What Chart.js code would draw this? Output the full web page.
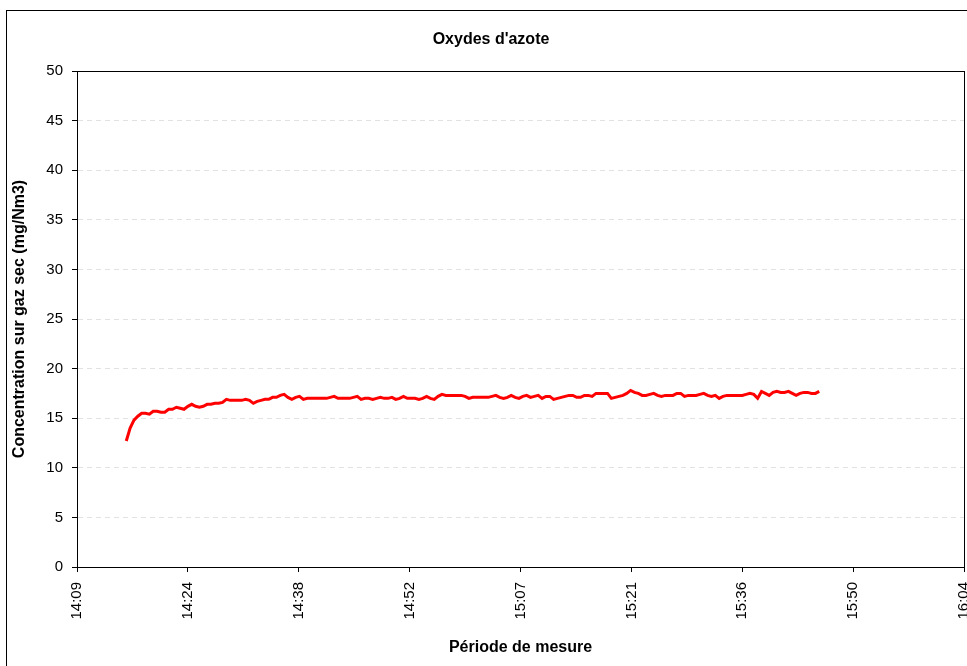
<!DOCTYPE html>
<html><head><meta charset="utf-8">
<script src="https://cdn.jsdelivr.net/npm/chart.js@4.4.0/dist/chart.umd.min.js"></script>
<style>html,body{margin:0;padding:0;background:#fff;overflow:hidden}</style>
</head><body>
<canvas id="c" width="967" height="666"></canvas>
<script>
const chartTitle = "Oxydes d'azote";
const yTitle = "Concentration sur gaz sec (mg/Nm3)";
const xTitle = "Période de mesure";
// x axis in minutes since midnight
const tickMinutes = [849.6, 864, 878.4, 892.8, 907.2, 921.6, 936, 950.4, 964.8];
const tickLabels = ["14:09","14:24","14:38","14:52","15:07","15:21","15:36","15:50","16:04"];
const yTicks = [0,5,10,15,20,25,30,35,40,45,50];
const startMinute = 856;
const stepMinutes = 0.5;
const noxValues = [
 12.7,14.0,14.8,15.2,15.5,15.5,15.4,15.7,15.7,15.6,
 15.6,15.9,15.9,16.1,16.0,15.9,16.2,16.4,16.2,16.1,
 16.2,16.4,16.4,16.5,16.5,16.6,16.9,16.8,16.8,16.8,
 16.8,16.9,16.8,16.5,16.7,16.8,16.9,16.9,17.1,17.1,
 17.3,17.4,17.1,16.9,17.1,17.2,16.9,17.0,17.0,17.0,
 17.0,17.0,17.0,17.1,17.2,17.0,17.0,17.0,17.0,17.1,
 17.2,16.9,17.0,17.0,16.9,17.0,17.1,17.0,17.0,17.1,
 16.9,17.0,17.2,17.0,17.0,17.0,16.9,17.0,17.2,17.0,
 16.9,17.2,17.4,17.3,17.3,17.3,17.3,17.3,17.2,17.0,
 17.1,17.1,17.1,17.1,17.1,17.2,17.3,17.1,17.0,17.1,
 17.3,17.1,17.0,17.2,17.3,17.1,17.2,17.3,17.0,17.2,
 17.2,16.9,17.0,17.1,17.2,17.3,17.3,17.1,17.1,17.3,
 17.3,17.2,17.5,17.5,17.5,17.5,17.0,17.1,17.2,17.3,
 17.5,17.8,17.6,17.5,17.3,17.3,17.4,17.5,17.3,17.2,
 17.3,17.3,17.3,17.5,17.5,17.2,17.3,17.3,17.3,17.4,
 17.5,17.3,17.2,17.3,17.0,17.2,17.3,17.3,17.3,17.3,
 17.3,17.4,17.5,17.4,17.0,17.7,17.5,17.3,17.6,17.7,
 17.6,17.6,17.7,17.5,17.3,17.5,17.6,17.6,17.5,17.5,
 17.7
];

const FONT = 'Arial, "Liberation Sans", sans-serif';
const points = noxValues.map((v, i) => ({ x: startMinute + i * stepMinutes, y: v }));

const frame = {
  id: 'frame',
  afterDraw(chart) {
    const { ctx, chartArea: a } = chart;
    ctx.save();
    ctx.strokeStyle = '#000';
    ctx.lineWidth = 1;
    ctx.strokeRect(Math.round(a.left) + 0.5, Math.round(a.top) + 0.5,
                   Math.round(a.right - a.left), Math.round(a.bottom - a.top));
    ctx.strokeRect(6.5, 10.5, 1000, 700);
    ctx.restore();
  }
};

new Chart(document.getElementById('c'), {
  type: 'line',
  data: {
    datasets: [{
      data: points,
      borderColor: '#FF0000',
      borderWidth: 3,
      pointRadius: 0,
      stepped: false,
      tension: 0,
      fill: false
    }]
  },
  options: {
    responsive: false,
    animation: false,
    layout: { padding: { left: 18, right: 3, top: 0, bottom: 0 } },
    plugins: {
      legend: { display: false },
      tooltip: { enabled: false },
      title: {
        display: true, text: chartTitle, color: '#000',
        font: { family: FONT, size: 16, weight: 'bold' },
        padding: { top: 30.4, bottom: 21.4 }
      }
    },
    scales: {
      x: {
        type: 'linear', min: tickMinutes[0], max: tickMinutes[tickMinutes.length - 1],
        afterBuildTicks: s => { s.ticks = tickMinutes.map(v => ({ value: v })); },
        afterFit: s => { s.height = 99; s.paddingLeft = 0; s.paddingRight = 0; },
        ticks: {
          callback: (v, i) => tickLabels[i],
          minRotation: 90, maxRotation: 90, autoSkip: false,
          color: '#000', font: { family: FONT, size: 15 }, padding: 10
        },
        grid: { drawOnChartArea: false, drawTicks: true, tickLength: 5, color: '#000' },
        border: { color: '#000', width: 1 },
        title: {
          display: true, text: xTitle, color: '#000',
          font: { family: FONT, size: 16, weight: 'bold' },
          padding: { top: 0, bottom: 8.4 }
        }
      },
      y: {
        min: 0, max: 50,
        afterBuildTicks: s => { s.ticks = yTicks.map(v => ({ value: v })); },
        afterFit: s => { s.width = 59; },
        ticks: { color: '#000', font: { family: FONT, size: 15 }, padding: 9 },
        grid: { color: '#e2e2e2', tickColor: '#000', tickLength: 5, tickBorderDash: [] },
        border: { color: '#000', width: 1, dash: [5, 4] },
        title: {
          display: true, text: yTitle, color: '#000',
          font: { family: FONT, size: 16, weight: 'bold' },
          padding: { top: -7.6, bottom: 0 }
        }
      }
    }
  },
  plugins: [frame]
});
</script>
</body></html>
